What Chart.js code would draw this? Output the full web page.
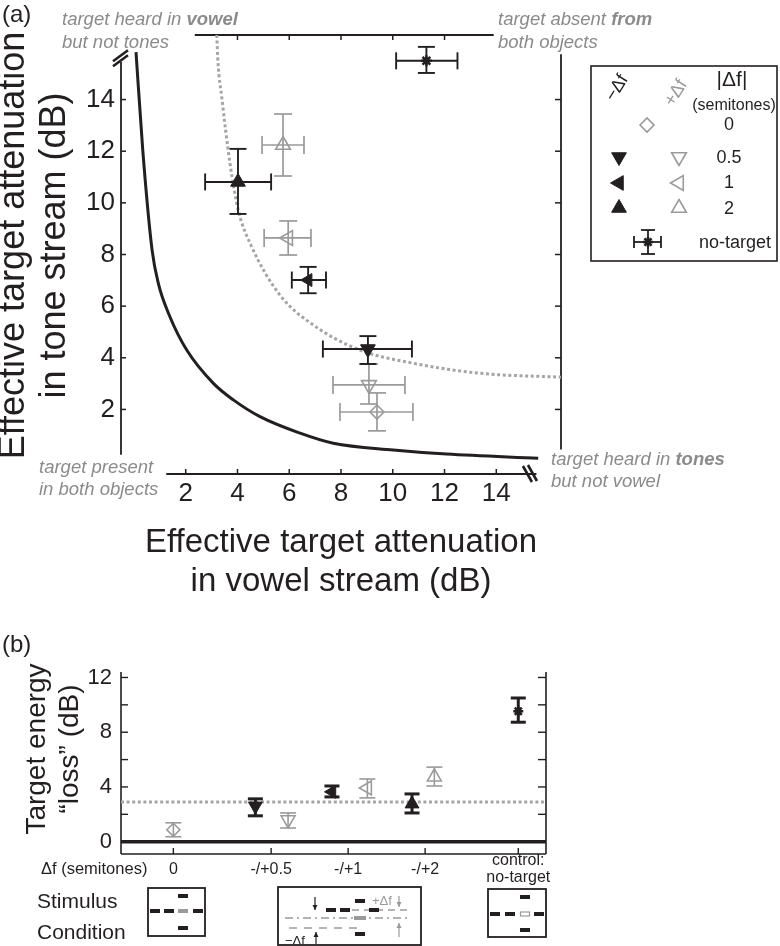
<!DOCTYPE html>
<html><head><meta charset="utf-8">
<script src="https://cdn.jsdelivr.net/npm/chart.js@4.4.1/dist/chart.umd.min.js"></script>
<style>
html,body{margin:0;padding:0;background:#fff;}
body{width:780px;height:946px;position:relative;overflow:hidden}
canvas{position:absolute;left:0}
#ca{top:0}
#cb{top:620px}
</style></head><body>
<canvas id="ca" width="780" height="620"></canvas>
<canvas id="cb" width="780" height="326"></canvas>
<script>
// ================= DATA =================
// ---- Panel (a): effective target attenuation (dB) ----
const aTicks = [2, 4, 6, 8, 10, 12, 14];
const aTopTicks = [4, 6, 8, 10, 12];
// -Δf (black, filled) for |Δf| = 0.5, 1, 2 semitones
const negVowel   = [9.04, 6.73, 4.02];
const negVowelLo = [7.30, 6.10, 2.75];
const negVowelHi = [10.74, 7.42, 5.30];
const negTone    = [4.34, 7.01, 10.81];
const negToneLo  = [3.76, 6.50, 9.57];
const negToneHi  = [4.84, 7.52, 12.09];
// +Δf (gray, open) for |Δf| = 0, 0.5, 1, 2 semitones
const posVowel   = [9.39, 9.08, 5.96, 5.76];
const posVowelLo = [7.96, 7.69, 5.03, 4.95];
const posVowelHi = [10.78, 10.47, 6.84, 6.57];
const posTone    = [1.90, 2.95, 8.64, 12.24];
const posToneLo  = [1.17, 2.21, 7.98, 11.04];
const posToneHi  = [2.64, 3.76, 9.30, 13.44];
// no-target control
const ntVowel = [11.30], ntVowelLo = [10.13], ntVowelHi = [12.50];
const ntTone  = [15.50], ntToneLo  = [15.03], ntToneHi  = [16.04];
// boundary curves (vowel dB, tone dB)
const solidCurve = [[0.08,15.84],[0.34,12.05],[0.70,8.18],[0.94,6.89],[1.39,5.59],[2.04,4.30],[3.07,3.01],[3.84,2.37],[4.87,1.72],[6.42,1.08],[7.70,0.69],[10.02,0.43],[12.08,0.27],[15.62,0.11]];
const dottedCurve = [[3.20,16.50],[3.25,15.40],[3.39,14.11],[3.71,11.53],[4.03,9.72],[4.55,8.30],[5.64,6.43],[6.93,5.27],[8.73,4.30],[10.79,3.79],[13.37,3.40],[16.50,3.25]];

// ---- Panel (b): target energy "loss" (dB) ----
const bCats = ['0', '-/+0.5', '-/+1', '-/+2', ['control:', 'no-target']];
const bCatPos = [0, 1.27, 2.27, 3.27, 4.48];
const bTickMarks = [0, 2, 4, 6, 8, 10, 12];
const bTickLabels = [0, 4, 8, 12];
// -Δf (black) at -0.5, -1, -2
const bNegX  = [1.065, 2.06, 3.10];
const bNeg   = [2.60, 3.64, 2.76];
const bNegLo = [1.89, 3.27, 2.10];
const bNegHi = [3.13, 4.07, 3.49];
// +Δf (gray) at 0, +0.5, +1, +2
const bPosX  = [0, 1.49, 2.52, 3.39];
const bPos   = [0.87, 1.60, 3.93, 4.73];
const bPosLo = [0.36, 1.00, 3.20, 4.07];
const bPosHi = [1.38, 2.10, 4.58, 5.45];
// no-target control
const bNtX = [4.48], bNt = [9.53], bNtLo = [8.73], bNtHi = [10.50];
const bRefLine = 2.9;

// ================= STYLE / HELPERS =================
const FONT = "'Liberation Sans', Arial, Helvetica, sans-serif";
const INK = '#231f20', GRAY = '#9a9a9a', DOT = '#a5a5a5', NOTE = '#8b8b8b';
const P = (xs, ys) => xs.map((x, i) => ({x, y: ys[i]}));
const C = arr => arr.map(([x, y]) => ({x, y}));
function seg(ctx, x1, y1, x2, y2) { ctx.beginPath(); ctx.moveTo(x1, y1); ctx.lineTo(x2, y2); ctx.stroke(); }
function marker(ctx, style, rot, r, x, y, fill, stroke, lw) {
  ctx.save(); ctx.fillStyle = fill; ctx.strokeStyle = stroke; ctx.lineWidth = lw;
  Chart.helpers.drawPoint(ctx, {pointStyle: style, rotation: rot, radius: r, borderWidth: lw}, x, y);
  ctx.restore();
}
function segs(ctx, parts, x, y, size) {
  let cx = x;
  for (const [t, b] of parts) {
    ctx.font = `italic ${b ? 'bold ' : ''}${size}px ${FONT}`;
    ctx.fillText(t, cx, y);
    cx += ctx.measureText(t).width;
  }
}
function arrow(ctx, x, y1, y2, color) {
  ctx.save(); ctx.strokeStyle = color; ctx.fillStyle = color; ctx.lineWidth = 1.2;
  seg(ctx, x, y1, x, y2);
  const d = y2 > y1 ? 1 : -1;
  ctx.beginPath(); ctx.moveTo(x, y2); ctx.lineTo(x - 2.5, y2 - d * 5); ctx.lineTo(x + 2.5, y2 - d * 5); ctx.closePath(); ctx.fill();
  ctx.restore();
}

// error bars drawn just before their dataset
const errPlugin = {
  id: 'errbars',
  beforeDatasetDraw(chart, args) {
    const ds = chart.data.datasets[args.index];
    const e = ds.errbars; if (!e) return;
    const {ctx, scales: {x, y}} = chart;
    ctx.save(); ctx.strokeStyle = e.color; ctx.lineWidth = e.lw;
    ds.data.forEach((p, i) => {
      const px = x.getPixelForValue(p.x), py = y.getPixelForValue(p.y);
      if (e.xLo) {
        const x1 = x.getPixelForValue(e.xLo[i]), x2 = x.getPixelForValue(e.xHi[i]);
        seg(ctx, x1, py, x2, py);
        seg(ctx, x1, py - e.capX, x1, py + e.capX); seg(ctx, x2, py - e.capX, x2, py + e.capX);
      }
      const y1 = y.getPixelForValue(e.yLo[i]), y2 = y.getPixelForValue(e.yHi[i]);
      seg(ctx, px, y1, px, y2);
      seg(ctx, px - e.capY, y1, px + e.capY, y1); seg(ctx, px - e.capY, y2, px + e.capY, y2);
    });
    ctx.restore();
  }
};

// ================= PANEL (a) =================
const aDecor = {
  id: 'aDecor',
  beforeDatasetsDraw(chart) {
    const {ctx, scales: {x, y}} = chart;
    const X = v => x.getPixelForValue(v), Y = v => y.getPixelForValue(v);
    const L = x.min, R = x.max, B = y.min, T = y.max;
    ctx.save(); ctx.strokeStyle = INK; ctx.lineWidth = 1.8;
    seg(ctx, X(1.25), Y(B), X(15.55), Y(B));       // bottom axis
    seg(ctx, X(L), Y(0.25), X(L), Y(15.45));        // left axis
    seg(ctx, X(2.35), Y(T), X(13.9), Y(T));         // top axis
    seg(ctx, X(R), Y(0.45), X(R), Y(15.75));        // right axis
    ctx.lineWidth = 1.5;
    aTicks.forEach(v => {
      seg(ctx, X(v), Y(B), X(v), Y(B) - 5);
      seg(ctx, X(L), Y(v), X(L) + 5, Y(v));
      seg(ctx, X(R), Y(v), X(R) - 6, Y(v));
    });
    aTopTicks.forEach(v => seg(ctx, X(v), Y(T), X(v), Y(T) + 5));
    // axis breaks
    ctx.lineWidth = 2.6;
    const bx = X(L), by = Y(15.6);
    seg(ctx, bx - 8, by + 8, bx + 7, by - 3);
    seg(ctx, bx - 8, by + 3, bx + 7, by - 8);
    const cx = X(15.3), cy = Y(B);
    seg(ctx, cx - 7, cy - 8, cx + 2, cy + 8);
    seg(ctx, cx - 2, cy - 9, cx + 7, cy + 7);
    ctx.restore();
  },
  afterDraw(chart) {
    const {ctx} = chart;
    ctx.save();
    ctx.textBaseline = 'middle'; ctx.textAlign = 'left';
    ctx.fillStyle = INK; ctx.font = `24px ${FONT}`;
    ctx.fillText('(a)', 2, 15);
    ctx.fillStyle = NOTE;
    const s = 18.5;
    segs(ctx, [['target heard in ', 0], ['vowel', 1]], 62, 20, s);
    segs(ctx, [['but not tones', 0]], 62, 43, s);
    segs(ctx, [['target absent ', 0], ['from', 1]], 498, 20, s);
    segs(ctx, [['both objects', 0]], 498, 43, s);
    segs(ctx, [['target present', 0]], 39, 468, s);
    segs(ctx, [['in both objects', 0]], 39, 490, s);
    segs(ctx, [['target heard in ', 0], ['tones', 1]], 551, 460, s);
    segs(ctx, [['but not vowel', 0]], 551, 482, s);

    // legend
    ctx.strokeStyle = INK; ctx.lineWidth = 1.6;
    ctx.strokeRect(591, 66, 186, 195);
    ctx.textAlign = 'center';
    ctx.save(); ctx.translate(617, 88); ctx.rotate(-58 * Math.PI / 180);
    ctx.fillStyle = INK; ctx.font = `18px ${FONT}`; ctx.fillText('\u2212\u0394f', 0, 0); ctx.restore();
    ctx.save(); ctx.translate(676, 93); ctx.rotate(-58 * Math.PI / 180);
    ctx.fillStyle = GRAY; ctx.font = `18px ${FONT}`; ctx.fillText('+\u0394f', 0, 0); ctx.restore();
    ctx.fillStyle = INK;
    ctx.font = `21px ${FONT}`; ctx.fillText('|\u0394f|', 732, 80);
    ctx.font = `16px ${FONT}`; ctx.fillText('(semitones)', 734, 106);
    ctx.font = `18px ${FONT}`;
    ctx.fillText('0', 729, 125);
    ctx.fillText('0.5', 729, 158);
    ctx.fillText('1', 729, 183);
    ctx.fillText('2', 729, 209);
    ctx.fillText('no-target', 735, 243);
    const clear = 'rgba(0,0,0,0)';
    marker(ctx, 'rectRot', 0, 7, 647, 125, clear, GRAY, 1.6);
    marker(ctx, 'triangle', 180, 8.5, 619, 157, INK, INK, 1);
    marker(ctx, 'triangle', 180, 8.5, 679, 157, clear, GRAY, 1.6);
    marker(ctx, 'triangle', -90, 8.5, 619, 183, INK, INK, 1);
    marker(ctx, 'triangle', -90, 8.5, 679, 183, clear, GRAY, 1.6);
    marker(ctx, 'triangle', 0, 8.5, 619, 208, INK, INK, 1);
    marker(ctx, 'triangle', 0, 8.5, 679, 208, clear, GRAY, 1.6);
    ctx.strokeStyle = INK; ctx.lineWidth = 1.8;
    seg(ctx, 634, 242, 661, 242); seg(ctx, 634, 236, 634, 248); seg(ctx, 661, 236, 661, 248);
    seg(ctx, 648, 230, 648, 254); seg(ctx, 641, 230, 655, 230); seg(ctx, 641, 254, 655, 254);
    marker(ctx, 'star', 0, 5, 648, 242, INK, INK, 2.5);
    ctx.restore();
  }
};

const clear = 'rgba(0,0,0,0)';
new Chart(document.getElementById('ca'), {
  type: 'scatter',
  data: {
    datasets: [
      { label: 'no-target', data: P(ntVowel, ntTone), clip: false,
        pointStyle: 'star', pointRadius: 5.5, pointBorderWidth: 2.5, pointBorderColor: INK, pointBackgroundColor: INK,
        errbars: {xLo: ntVowelLo, xHi: ntVowelHi, yLo: ntToneLo, yHi: ntToneHi, color: INK, lw: 1.9, capX: 8.5, capY: 8.5} },
      { label: '-\u0394f', data: P(negVowel, negTone), clip: false,
        pointStyle: 'triangle', pointRotation: [180, -90, 0], pointRadius: [8.5, 7.5, 8.5],
        pointBackgroundColor: INK, pointBorderColor: INK, pointBorderWidth: 1,
        errbars: {xLo: negVowelLo, xHi: negVowelHi, yLo: negToneLo, yHi: negToneHi, color: INK, lw: 1.9, capX: 8.5, capY: 8.5} },
      { label: '+\u0394f', data: P(posVowel, posTone), clip: false,
        pointStyle: ['rectRot', 'triangle', 'triangle', 'triangle'], pointRotation: [0, 180, -90, 0], pointRadius: [7, 8.5, 8.5, 8.5],
        pointBackgroundColor: clear, pointBorderColor: GRAY, pointBorderWidth: 1.6,
        errbars: {xLo: posVowelLo, xHi: posVowelHi, yLo: posToneLo, yHi: posToneHi, color: GRAY, lw: 1.7, capX: 9, capY: 9} },
      { label: 'dotted', data: C(dottedCurve), showLine: true, pointRadius: 0, clip: false,
        borderColor: DOT, borderWidth: 3, borderDash: [3, 2.6], cubicInterpolationMode: 'monotone' },
      { label: 'solid', data: C(solidCurve), showLine: true, pointRadius: 0, clip: false,
        borderColor: INK, borderWidth: 3, cubicInterpolationMode: 'monotone' }
    ]
  },
  options: {
    responsive: false, animation: false, devicePixelRatio: 1, events: [],
    layout: { padding: { left: 0, top: 35, right: 219, bottom: 18 } },
    plugins: { legend: { display: false }, tooltip: { enabled: false } },
    scales: {
      x: {
        type: 'linear', position: 'bottom', min: -0.5, max: 16.5,
        afterBuildTicks: s => { s.ticks = aTicks.map(v => ({value: v})); },
        afterFit: s => { s.height = 128; },
        grid: { display: false, drawTicks: false }, border: { display: false },
        ticks: { font: { family: FONT, size: 26 }, color: INK, padding: 4, maxRotation: 0, autoSkip: false },
        title: { display: true, text: ['Effective target attenuation', 'in vowel stream (dB)'],
                 font: { family: FONT, size: 33, lineHeight: 1.2 }, color: INK, padding: 0 }
      },
      y: {
        type: 'linear', position: 'left', min: -0.5, max: 16.5,
        afterBuildTicks: s => { s.ticks = aTicks.map(v => ({value: v})); },
        afterFit: s => { s.width = 121; },
        grid: { display: false, drawTicks: false }, border: { display: false },
        ticks: { font: { family: FONT, size: 26 }, color: INK, padding: 6, autoSkip: false },
        title: { display: true, text: ['\u2002Effective target attenuation', '\u2002in tone stream (dB)'],
                 font: { family: FONT, size: 36, lineHeight: 1.14 }, color: INK, padding: { top: -6, bottom: 0 } }
      }
    }
  },
  plugins: [aDecor, errPlugin]
});

// ================= PANEL (b) =================
const bDecor = {
  id: 'bDecor',
  beforeDatasetsDraw(chart) {
    const {ctx, scales: {x, y}, chartArea: a} = chart;
    const X = v => x.getPixelForValue(v), Y = v => y.getPixelForValue(v);
    ctx.save();
    ctx.strokeStyle = INK; ctx.lineWidth = 1.6;
    seg(ctx, a.left, a.top, a.left, a.bottom);
    seg(ctx, a.right, a.top, a.right, a.bottom);
    seg(ctx, a.left, a.bottom, a.right, a.bottom);
    ctx.lineWidth = 1.4;
    bTickMarks.forEach(v => { seg(ctx, a.left, Y(v), a.left + 7, Y(v)); seg(ctx, a.right, Y(v), a.right - 8, Y(v)); });
    bCatPos.forEach(v => seg(ctx, X(v), a.bottom, X(v), a.bottom - 6));
    // zero line
    ctx.lineWidth = 3.5; seg(ctx, a.left, Y(0), a.right, Y(0));
    // reference dotted line
    ctx.strokeStyle = DOT; ctx.lineWidth = 3; ctx.setLineDash([3, 2.6]);
    seg(ctx, a.left, Y(bRefLine), a.right, Y(bRefLine));
    ctx.restore();
  },
  afterDraw(chart) {
    const {ctx} = chart;
    ctx.save();
    ctx.textBaseline = 'middle'; ctx.textAlign = 'left'; ctx.fillStyle = INK;
    ctx.font = `24px ${FONT}`; ctx.fillText('(b)', 2, 25);
    ctx.font = `16.5px ${FONT}`; ctx.fillText('\u0394f (semitones)', 41, 249);
    ctx.font = `21px ${FONT}`; ctx.fillText('Stimulus', 37, 282); ctx.fillText('Condition', 37, 313);
    // stimulus boxes
    ctx.strokeStyle = INK; ctx.lineWidth = 1.8;
    ctx.strokeRect(148, 268, 57, 48);
    ctx.strokeRect(278, 267, 143, 58);
    ctx.strokeRect(488, 269, 58, 48);
    const dash = (x1, x2, yy, col) => { ctx.fillStyle = col; ctx.fillRect(x1, yy - 2, x2 - x1, 4); };
    // box 1
    dash(150, 160, 291, INK); dash(164, 174, 291, INK); dash(178, 188, 291, GRAY); dash(193, 203, 291, INK);
    dash(178, 188, 276, INK); dash(178, 188, 308, INK);
    // box 3
    dash(490, 500, 294, INK); dash(505, 515, 294, INK); dash(534, 544, 294, INK);
    ctx.strokeStyle = GRAY; ctx.lineWidth = 1.2; ctx.strokeRect(520.5, 292, 9, 4);
    dash(520, 530, 277, INK); dash(520, 530, 310, INK);
    // box 2
    ctx.save(); ctx.beginPath(); ctx.rect(279, 268, 141, 56); ctx.clip();
    ctx.strokeStyle = GRAY; ctx.lineWidth = 1.5;
    ctx.setLineDash([7, 5]); seg(ctx, 352, 290, 410, 290);
    ctx.setLineDash([8, 4, 2, 4]); seg(ctx, 285, 298, 410, 298);
    ctx.setLineDash([8, 7]); seg(ctx, 289, 308, 362, 308);
    ctx.setLineDash([]);
    dash(326, 336, 290, INK); dash(340, 350, 290, INK); dash(369, 379, 290, INK);
    dash(354, 366, 298, GRAY);
    dash(355, 365, 281, INK); dash(355, 365, 314, INK);
    ctx.font = `13px ${FONT}`; ctx.fillStyle = GRAY; ctx.fillText('+\u0394f', 372, 281);
    ctx.fillStyle = INK; ctx.fillText('\u2212\u0394f', 285, 321);
    arrow(ctx, 399, 276, 287, GRAY);
    arrow(ctx, 399, 317, 303, GRAY);
    arrow(ctx, 315, 277, 290, INK);
    arrow(ctx, 316, 326, 312, INK);
    ctx.restore();
    ctx.restore();
  }
};

new Chart(document.getElementById('cb'), {
  type: 'scatter',
  data: {
    datasets: [
      { label: 'no-target', data: P(bNtX, bNt), clip: false,
        pointStyle: 'star', pointRadius: 5, pointBorderWidth: 2.5, pointBorderColor: INK, pointBackgroundColor: INK,
        errbars: {yLo: bNtLo, yHi: bNtHi, color: INK, lw: 3, capY: 7.5} },
      { label: '-\u0394f', data: P(bNegX, bNeg), clip: false,
        pointStyle: 'triangle', pointRotation: [180, -90, 0], pointRadius: [8, 7.5, 8],
        pointBackgroundColor: INK, pointBorderColor: INK, pointBorderWidth: 1,
        errbars: {yLo: bNegLo, yHi: bNegHi, color: INK, lw: 3, capY: 7.5} },
      { label: '+\u0394f', data: P(bPosX, bPos), clip: false,
        pointStyle: ['rectRot', 'triangle', 'triangle', 'triangle'], pointRotation: [0, 180, -90, 0], pointRadius: [6.5, 8, 8, 8],
        pointBackgroundColor: clear, pointBorderColor: GRAY, pointBorderWidth: 1.6,
        errbars: {yLo: bPosLo, yHi: bPosHi, color: GRAY, lw: 1.6, capY: 8} }
    ]
  },
  options: {
    responsive: false, animation: false, devicePixelRatio: 1, events: [],
    layout: { padding: { left: 0, top: 52, right: 234, bottom: 42 } },
    plugins: { legend: { display: false }, tooltip: { enabled: false } },
    scales: {
      x: {
        type: 'linear', position: 'bottom', min: -0.68, max: 4.84,
        afterBuildTicks: s => { s.ticks = bCatPos.map(v => ({value: v})); },
        afterFit: s => { s.height = 50; },
        grid: { display: false, drawTicks: false }, border: { display: false },
        ticks: { font: { family: FONT, size: 16, lineHeight: 1.05 }, color: INK, padding: 7, maxRotation: 0, autoSkip: false,
                 crossAlign: 'center', callback: (v, i) => bCats[i] }
      },
      y: {
        type: 'linear', position: 'left', min: -0.9, max: 12.4,
        afterBuildTicks: s => { s.ticks = bTickLabels.map(v => ({value: v})); },
        afterFit: s => { s.width = 121; },
        grid: { display: false, drawTicks: false }, border: { display: false },
        ticks: { font: { family: FONT, size: 22 }, color: INK, padding: 9, autoSkip: false },
        title: { display: true, text: ['\u2003Target energy', '\u2003\u201closs\u201d (dB)'],
                 font: { family: FONT, size: 28, lineHeight: 1.2 }, color: INK, padding: { top: 20, bottom: 0 } }
      }
    }
  },
  plugins: [bDecor, errPlugin]
});
</script>
</body></html>
